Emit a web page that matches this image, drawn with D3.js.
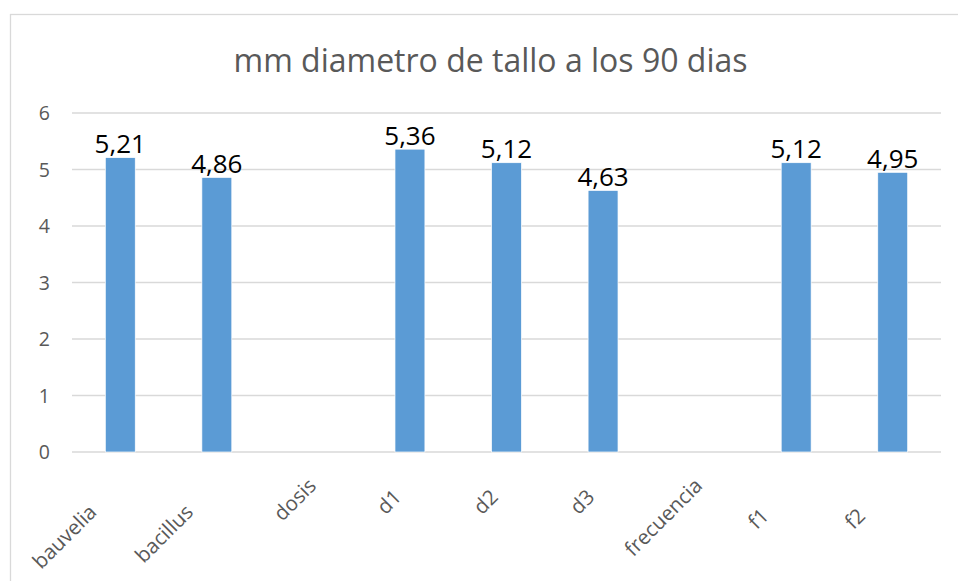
<!DOCTYPE html>
<html>
<head>
<meta charset="utf-8">
<script src="https://cdn.jsdelivr.net/npm/d3@7"></script>
<style>
  body { margin: 0; background: #fff; }
  svg text { font-family: "Open Sans", sans-serif; }
  .xlab { white-space: pre; }
</style>
</head>
<body>
<div id="chart"></div>
<script>
// categories as typed in the sheet (some carry trailing spaces)
var categories = ["bauvelia       ", "bacillus       ", "dosis", "d1   ", "d2   ", "d3   ", "frecuencia", "f1        ", "f2        "];
var values = [5.21, 4.86, null, 5.36, 5.12, 4.63, null, 5.12, 4.95];
var yTicks = [0, 1, 2, 3, 4, 5, 6];
var title = "mm diametro de tallo a los 90 dias";

var width = 958, height = 581;
var plot = {left: 72, right: 941, top: 113, bottom: 452};

var svg = d3.select("#chart").append("svg")
    .attr("width", width)
    .attr("height", height);

// chart frame (runs off the right and bottom edges)
svg.append("rect")
   .attr("x", 10.5).attr("y", 14.5)
   .attr("width", 980).attr("height", 600)
   .attr("fill", "#fff")
   .attr("stroke", "#d9d9d9")
   .attr("stroke-width", 1.3);

var x = d3.scaleBand()
    .domain(categories)
    .range([plot.left, plot.right])
    .paddingInner(0.69)
    .paddingOuter(0.345);

var y = d3.scaleLinear()
    .domain([0, 6])
    .range([plot.bottom, plot.top]);

var locale = d3.formatLocale({decimal: ",", thousands: ".", grouping: [3], currency: ["", ""]});
var fmt = locale.format(".2f");

svg.append("text")
   .attr("x", 490.5).attr("y", 72)
   .attr("text-anchor", "middle")
   .attr("fill", "#595959")
   .style("font-size", "32px")
   .text(title);

// gridlines
svg.append("g")
   .selectAll("line")
   .data(yTicks)
   .enter().append("line")
   .attr("x1", plot.left).attr("x2", plot.right)
   .attr("y1", function(d) { return y(d); })
   .attr("y2", function(d) { return y(d); })
   .attr("stroke", "#d9d9d9")
   .attr("stroke-width", 1.4);

// y axis labels
svg.append("g")
   .selectAll("text")
   .data(yTicks)
   .enter().append("text")
   .attr("x", 50)
   .attr("y", function(d) { return y(d); })
   .attr("dy", "0.36em")
   .attr("text-anchor", "end")
   .attr("fill", "#595959")
   .style("font-size", "19.5px")
   .text(function(d) { return d; });

var rows = categories.map(function(c, i) { return {cat: c, v: values[i]}; })
                     .filter(function(d) { return d.v != null; });

svg.append("g")
   .selectAll("rect")
   .data(rows)
   .enter().append("rect")
   .attr("x", function(d) { return x(d.cat); })
   .attr("width", x.bandwidth())
   .attr("y", function(d) { return y(d.v); })
   .attr("height", function(d) { return y(0) - y(d.v); })
   .attr("fill", "#5b9bd5")
   .attr("stroke", "#fff")
   .attr("stroke-width", 0.7);

// data labels
svg.append("g")
   .selectAll("text")
   .data(rows)
   .enter().append("text")
   .attr("x", function(d) { return x(d.cat) + x.bandwidth() / 2; })
   .attr("y", function(d) { return y(d.v) - 4.5; })
   .attr("text-anchor", "middle")
   .attr("fill", "#000")
   .style("font-size", "26px")
   .text(function(d) { return fmt(d.v); });

// category labels, rotated
svg.append("g")
   .selectAll("text")
   .data(categories)
   .enter().append("text")
   .attr("class", "xlab")
   .attr("text-anchor", "end")
   .attr("fill", "#595959")
   .style("font-size", "20.5px")
   .attr("transform", function(d) {
       return "translate(" + (x(d) + x.bandwidth() / 2 + 4) + "," + (plot.bottom + 35) + ") rotate(-45)";
   })
   .text(function(d) { return d; });
</script>
</body>
</html>
